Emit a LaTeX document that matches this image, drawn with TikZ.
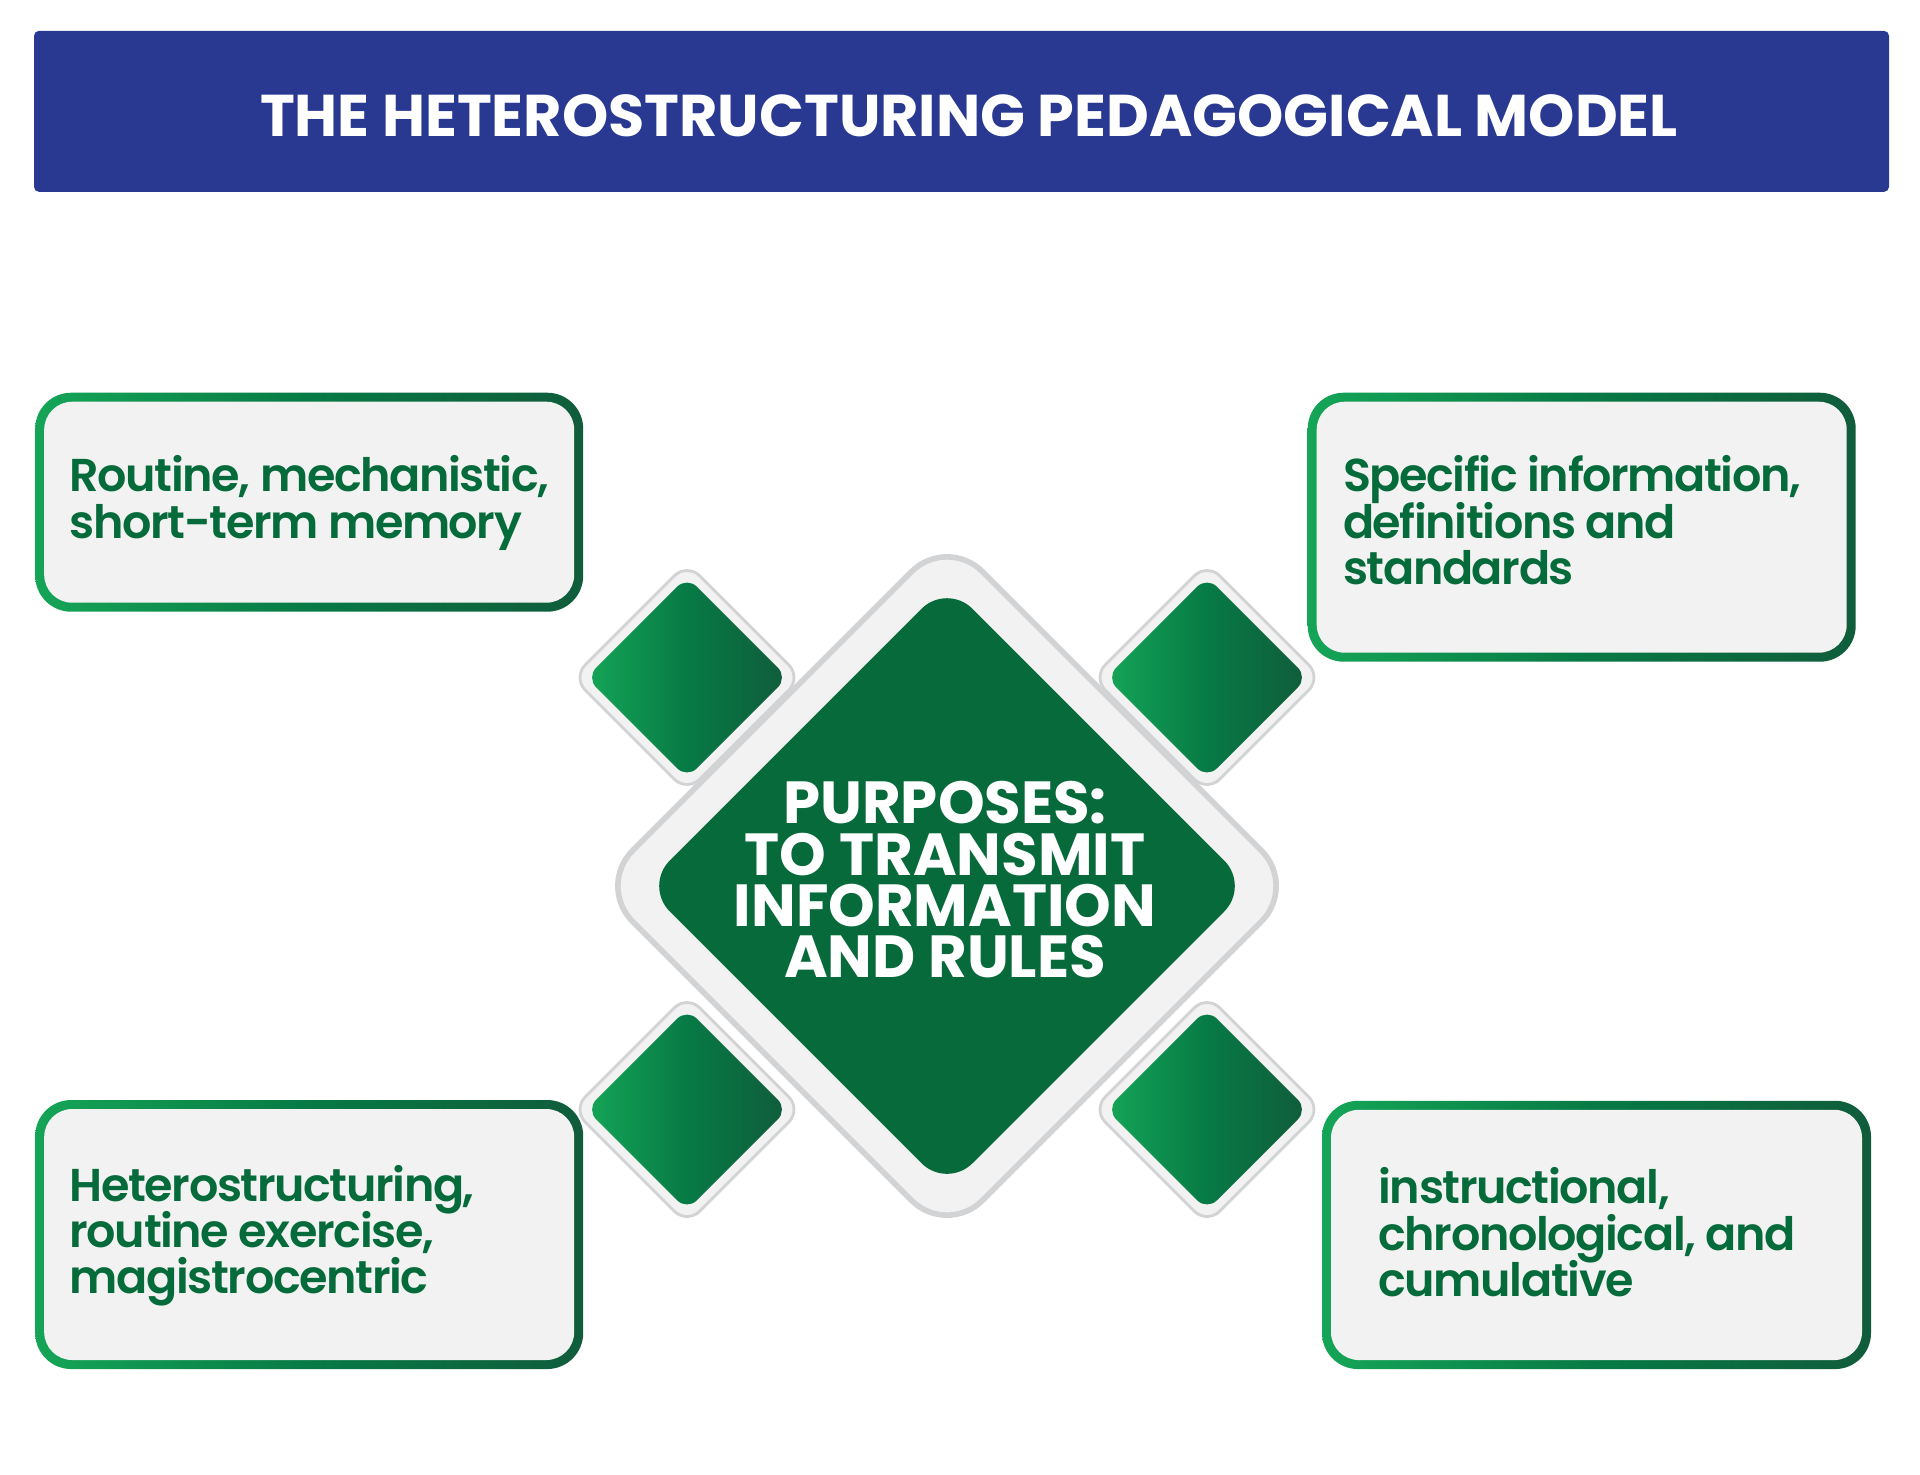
\documentclass[tikz,border=0pt]{standalone}
\usepackage{fontspec}
\setmainfont{Poppins}
\newfontfamily\panelfont{Poppins SemiBold}[LetterSpace=-3]
\usetikzlibrary{shapes.geometric,positioning}

\definecolor{titleblue}{RGB}{41,56,145}
\definecolor{panelgray}{RGB}{242,242,242}
\definecolor{rimgray}{RGB}{210,211,212}
\definecolor{textgreen}{RGB}{6,107,58}
\definecolor{gemgreen}{RGB}{6,106,58}
\definecolor{gemlight}{RGB}{21,165,87}
\definecolor{gemmid}{RGB}{7,122,69}
\definecolor{gemdark}{RGB}{16,92,59}

\tikzset{
  banner/.style={rectangle, fill=titleblue, rounded corners=0.05cm,
    minimum width=18.55cm, minimum height=1.61cm, inner sep=0},
  titletext/.style={text=white, inner sep=0,
    font={\bfseries\fontsize{16.75pt}{16.75pt}\selectfont}},
  panel/.style={rectangle, rounded corners=0.36cm, inner sep=0,
    minimum width=5.48cm, left color=gemlight, right color=gemdark, middle color=gemmid,
    path picture={\fill[panelgray, rounded corners=0.28cm]
      ([shift={(0.09,-0.09)}]path picture bounding box.north west) rectangle
      ([shift={(-0.09,0.09)}]path picture bounding box.south east);}},
  paneltext/.style={text=textgreen, align=left, inner sep=0,
    font={\panelfont\fontsize{13.1pt}{13.2pt}\selectfont\lineskiplimit=-20pt\relax}},
  mainrim/.style={diamond, aspect=1, inner sep=0, minimum size=7.02cm,
    rounded corners=0.5cm, fill=panelgray, draw=rimgray, line width=1.6pt},
  maingem/.style={diamond, aspect=1, inner sep=0, minimum size=6.06cm,
    rounded corners=0.36cm, fill=gemgreen},
  smallrim/.style={diamond, aspect=1, inner sep=0, minimum size=2.3cm,
    rounded corners=0.18cm, fill=panelgray, draw=rimgray, line width=0.8pt},
  smallgem/.style={diamond, aspect=1, inner sep=0, minimum size=2.02cm,
    rounded corners=0.14cm, left color=gemlight, right color=gemdark, middle color=gemmid},
  purposetext/.style={text=white, align=center, inner sep=0,
    font={\bfseries\fontsize{16.9pt}{14.6pt}\selectfont\lineskiplimit=-20pt\relax}}
}

\begin{document}
\begin{tikzpicture}
\useasboundingbox (0,0) rectangle (19.2,-14.74);

%title
\node[banner] (banner) at (9.615,-1.1135) {};
\node[titletext] (title) at (9.69,-1.158) {THE HETEROSTRUCTURING PEDAGOGICAL MODEL};

%centre
\node[mainrim] (rim) at (9.47,-8.86) {};
\node[maingem] (gem) at (9.47,-8.86) {};
\node[purposetext] (purpose) at (9.45,-8.8) {PURPOSES:\\TO TRANSMIT\\INFORMATION\\AND RULES};

%small gems
\node[smallrim] (rimnw) at (6.87,-6.775) {};
\node[smallgem] (gemnw) at (rimnw) {};
\node[smallrim] (rimne) at (12.07,-6.775) {};
\node[smallgem] (gemne) at (rimne) {};
\node[smallrim] (rimsw) at (6.87,-11.095) {};
\node[smallgem] (gemsw) at (rimsw) {};
\node[smallrim] (rimse) at (12.07,-11.095) {};
\node[smallgem] (gemse) at (rimse) {};

%panels
\node[panel, minimum height=2.19cm] (memory) at (3.092,-5.022) {};
\node[panel, minimum height=2.69cm] (standards) at (15.817,-5.272) {};
\node[panel, minimum height=2.69cm] (exercise) at (3.092,-12.345) {};
\node[panel, minimum width=5.49cm, minimum height=2.683cm] (cumulative) at (15.965,-12.349) {};

%labels
\node[paneltext, below right=0.63cm and 0.345cm of memory.north west] (memorytext)
  {Routine, mechanistic,\\short-term memory};
\node[paneltext, below right=0.63cm and 0.353cm of standards.north west] (standardstext)
  {Specific information,\\definitions and\\standards};
\node[paneltext, below right=0.65cm and 0.345cm of exercise.north west] (exercisetext)
  {Heterostructuring,\\routine exercise,\\magistrocentric};
\node[paneltext, below right=0.67cm and 0.565cm of cumulative.north west] (cumulativetext)
  {instructional,\\chronological, and\\cumulative};
\end{tikzpicture}
\end{document}
